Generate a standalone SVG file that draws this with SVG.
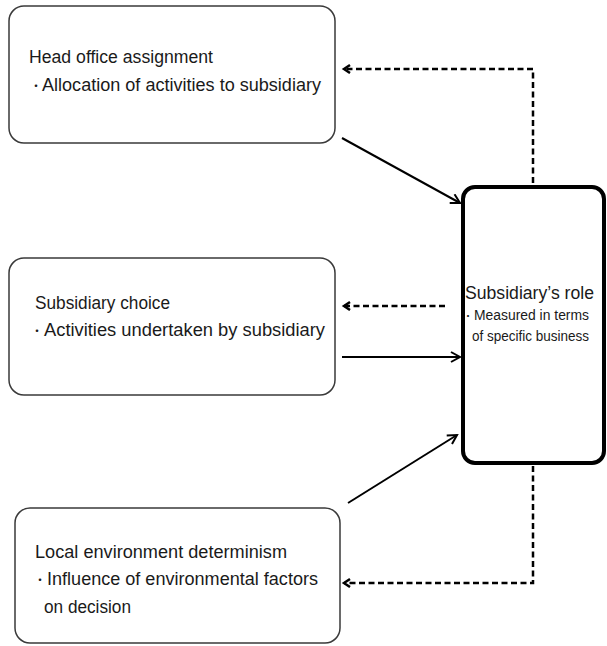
<svg xmlns="http://www.w3.org/2000/svg" width="607" height="646" viewBox="0 0 607 646">
<defs>
<style>
.box{fill:#fff;stroke:#3a3a3a;stroke-width:1.5}
.main{fill:#fff;stroke:#000;stroke-width:4}
.t{font-family:"Liberation Sans","Noto Sans CJK JP",sans-serif;font-size:17.5px;fill:#1a1a1a}
.s{font-family:"Liberation Sans","Noto Sans CJK JP",sans-serif;font-size:14px;fill:#1a1a1a}
.b{font-size:12px}
.bs{font-size:10px}
.solid{fill:none;stroke:#000;stroke-width:2}
.dash{fill:none;stroke:#000;stroke-width:2.5;stroke-dasharray:6 3.5}
</style>
<marker id="open" markerUnits="userSpaceOnUse" markerWidth="14" markerHeight="14" refX="11" refY="6" orient="auto">
<path d="M2,1 L11,6 L2,11" fill="none" stroke="#000" stroke-width="2"/>
</marker>
<marker id="small" markerUnits="userSpaceOnUse" markerWidth="12" markerHeight="12" refX="9" refY="5" orient="auto">
<path d="M3,1 L9,5 L3,9" fill="none" stroke="#000" stroke-width="2.5"/>
</marker>
</defs>
<rect width="607" height="646" fill="#fff"/>
<g id="head-office">
<rect class="box" x="9" y="6" width="326" height="137" rx="15"/>
<text class="t" x="29" y="63" textLength="184" lengthAdjust="spacingAndGlyphs">Head office assignment</text>
<text class="t" y="91"><tspan class="b" x="30">・</tspan><tspan x="42" textLength="279" lengthAdjust="spacingAndGlyphs">Allocation of activities to subsidiary</tspan></text>
</g>
<g id="subsidiary-choice">
<rect class="box" x="9" y="258" width="326" height="137" rx="15"/>
<text class="t" x="35" y="309" textLength="135" lengthAdjust="spacingAndGlyphs">Subsidiary choice</text>
<text class="t" y="336"><tspan class="b" x="31">・</tspan><tspan x="44" textLength="281" lengthAdjust="spacingAndGlyphs">Activities  undertaken by subsidiary</tspan></text>
</g>
<g id="local-environment">
<rect class="box" x="15" y="508" width="325" height="135" rx="15"/>
<text class="t" x="35" y="558" textLength="252" lengthAdjust="spacingAndGlyphs">Local environment determinism</text>
<text class="t" y="585"><tspan class="b" x="34">・</tspan><tspan x="47" textLength="271" lengthAdjust="spacingAndGlyphs">Influence of environmental factors</tspan></text>
<text class="t" x="44" y="613" textLength="87" lengthAdjust="spacingAndGlyphs">on decision</text>
</g>
<g id="subsidiary-role">
<rect class="main" x="463" y="187" width="141" height="276" rx="12"/>
<text class="t" x="465" y="299" textLength="129" lengthAdjust="spacingAndGlyphs">Subsidiary’s role</text>
<text class="s" y="320"><tspan class="bs" x="463">・</tspan><tspan x="474" textLength="115" lengthAdjust="spacingAndGlyphs">Measured in terms</tspan></text>
<text class="s" x="472" y="341" textLength="117" lengthAdjust="spacingAndGlyphs">of specific business</text>
</g>
<g id="connectors">
<line class="solid" x1="342" y1="138" x2="460" y2="203" marker-end="url(#open)"/>
<line class="solid" x1="342" y1="357" x2="460" y2="357" marker-end="url(#open)"/>
<line class="solid" x1="348" y1="503" x2="457" y2="435" marker-end="url(#open)"/>
<polyline class="dash" points="533,183 533,69 344,69" marker-end="url(#small)"/>
<line class="dash" x1="445" y1="306" x2="344" y2="306" marker-end="url(#small)"/>
<polyline class="dash" points="533,466 533,583 344,583" marker-end="url(#small)"/>
</g>
</svg>
